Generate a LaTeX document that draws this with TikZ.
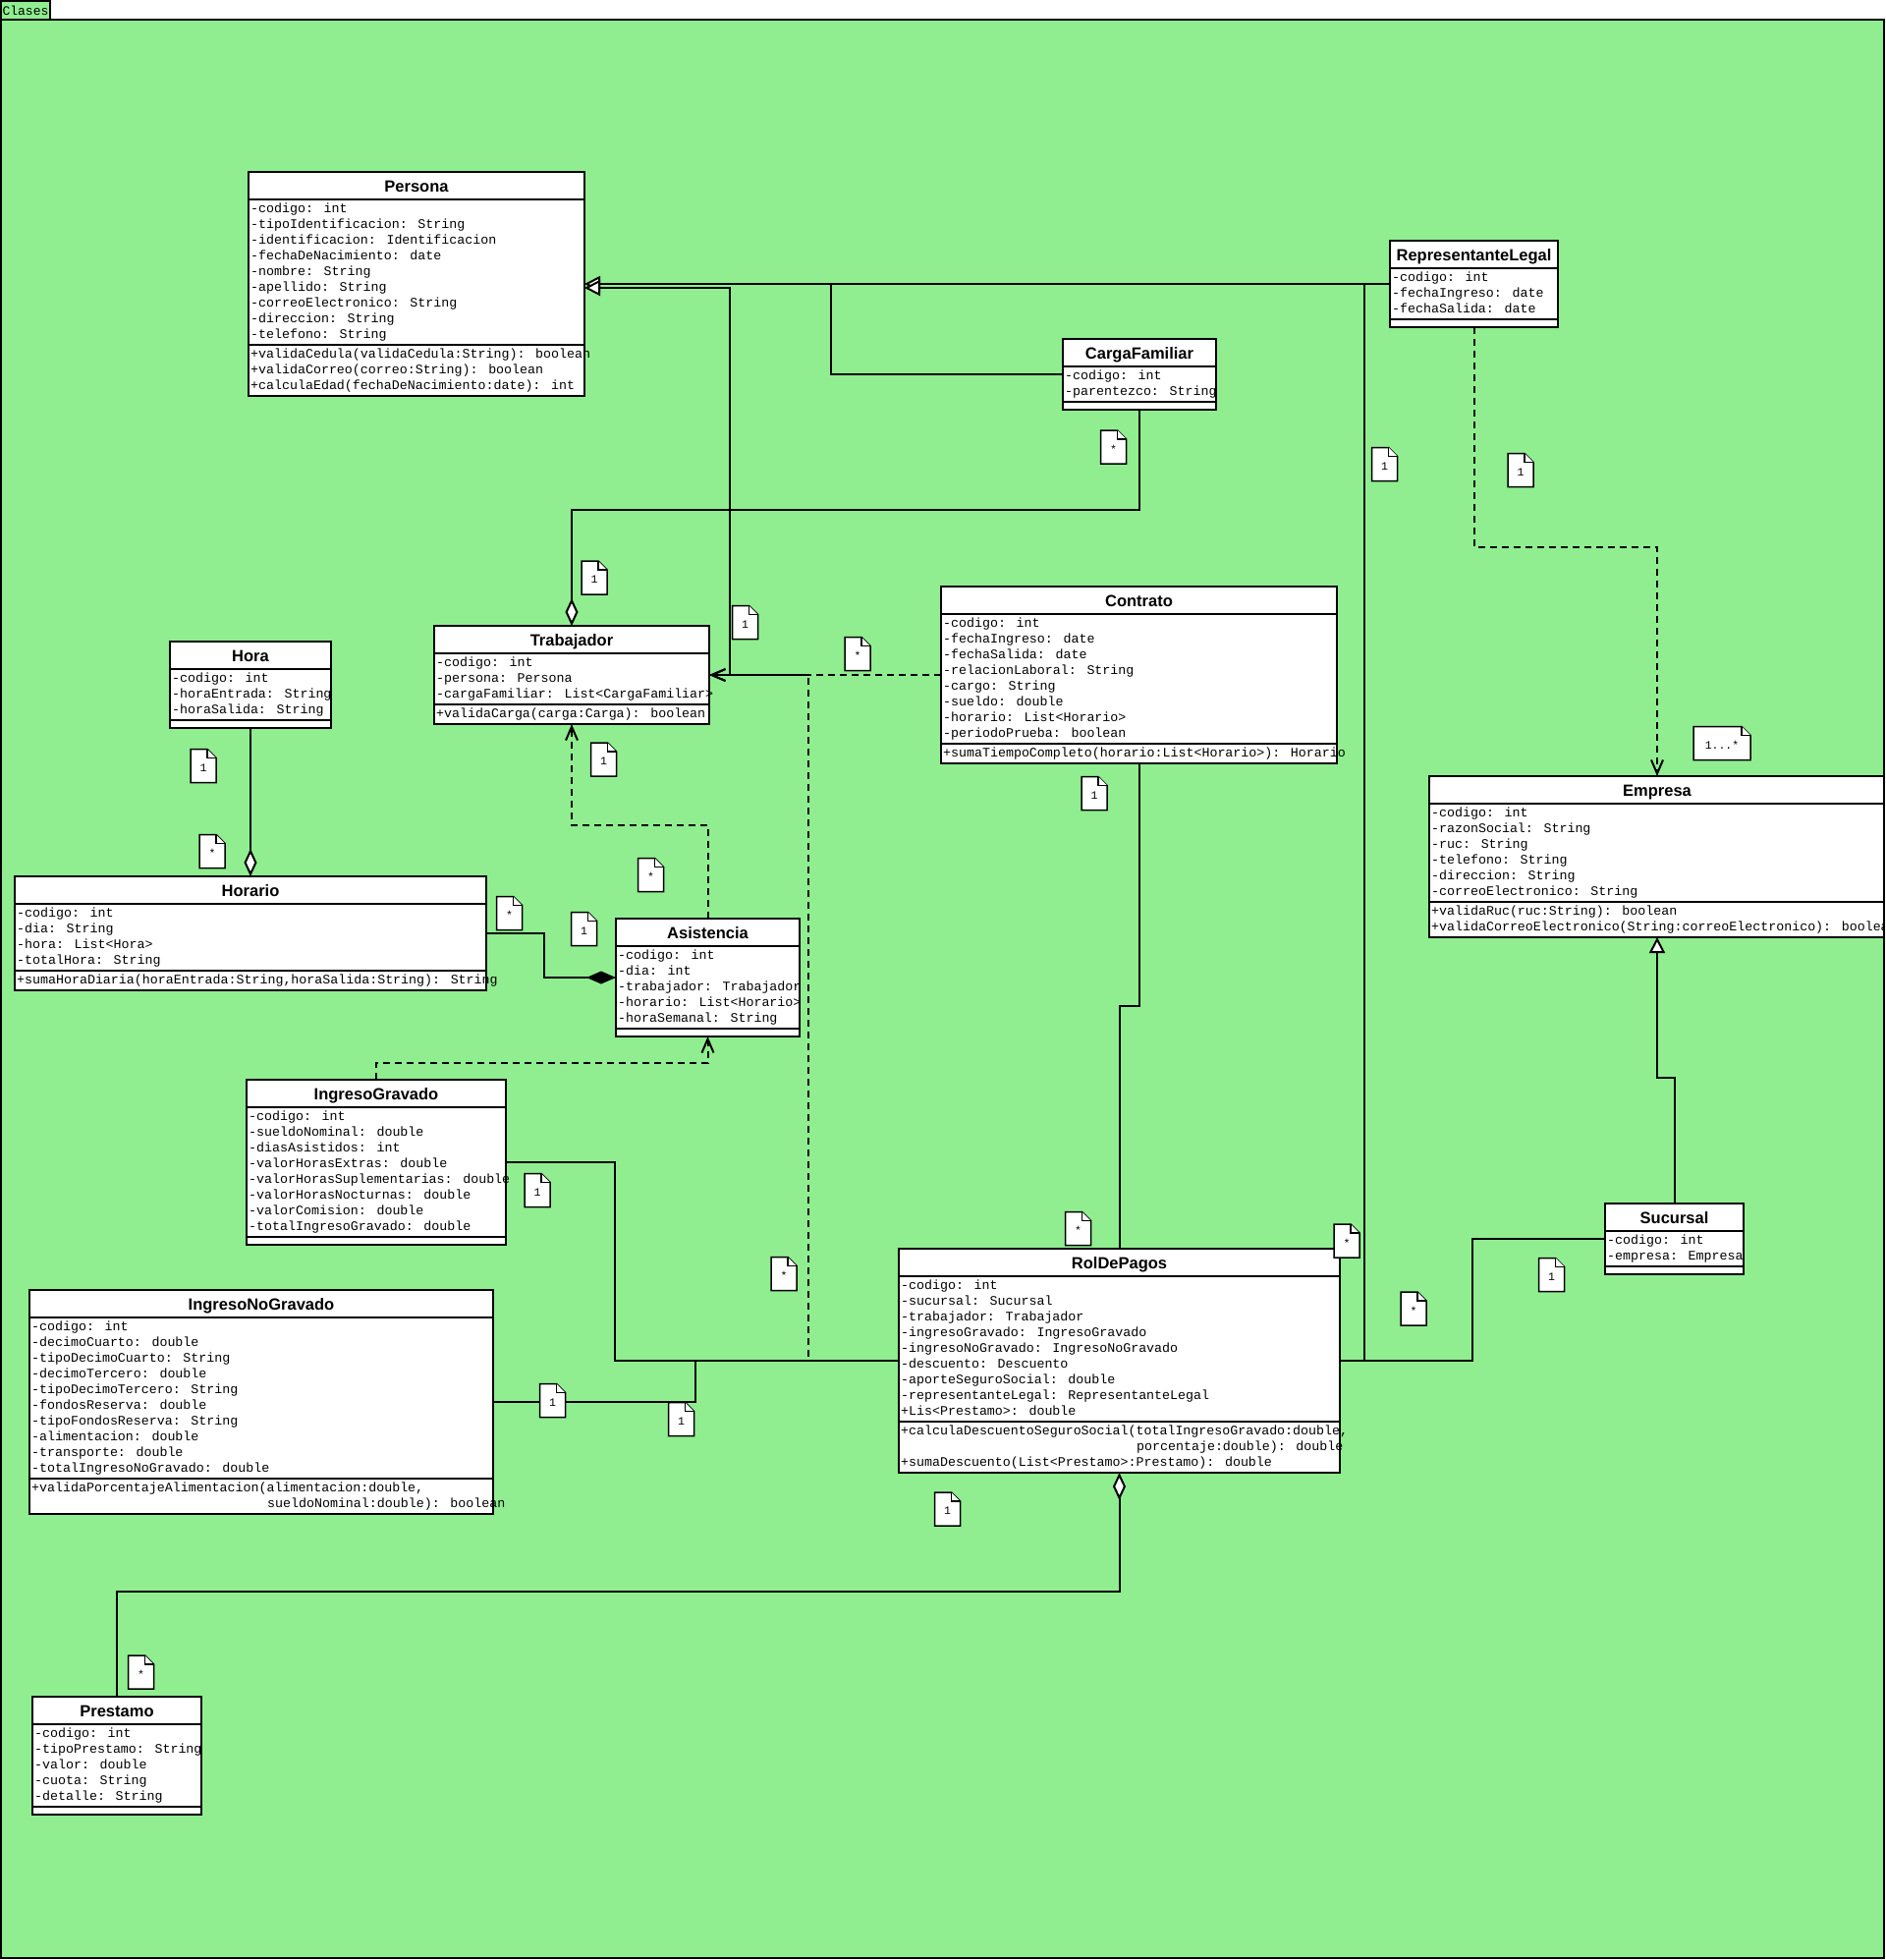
\documentclass[tikz,border=0pt]{standalone}
\usepackage{fontspec}
\usepackage{tikz}
\usetikzlibrary{arrows.meta,positioning,calc}
\newfontfamily\classmono{Liberation Mono}
\newfontfamily\classsans{Liberation Sans}
\definecolor{diagramgreen}{RGB}{144,238,144}

% class box: name, top left, width, title, attribute height, attributes, method height, methods
\newcommand{\umlclass}[8]{%
  \node[classhead, minimum width=#3pt] (#1) at (#2) {#4};
  \node[classpart, minimum width=#3pt, minimum height=#5pt] (#1-attr) at (#1.south west) {};
  \node[classtext] (#1-attrtext) at (#1-attr.north west) {\strut#6};
  \node[classpart, minimum width=#3pt, minimum height=#7pt] (#1-meth) at (#1-attr.south west) {};
  \node[classtext] (#1-methtext) at (#1-meth.north west) {\strut#8};
}
% multiplicity note: [half width] name, centre, text
\newcommand{\mult}[4][13]{%
  \filldraw[multline, shift={(#3)}] (-#1,17) -- (-#1,-17) -- (#1-9,-17) -- (#1,-8) -- (#1,17) -- cycle;
  \draw[multline, shift={(#3)}] (#1-9,-17) |- (#1,-8);
  \node[multtext] (#2) at (#3) {#4};
}

\begin{document}
\begin{tikzpicture}[
  x=1pt, y=-1pt,
  assoc/.style={line width=2pt},
  dep/.style={line width=2pt, dash pattern=on 7pt off 5pt, -{Straight Barb[length=14pt, width=12pt]}},
  gen/.style={line width=2pt, -{Triangle[fill=white, length=16pt, width=16pt]}},
  agg/.style={line width=2pt, -{Diamond[fill=white, length=28pt, width=13pt]}},
  comp/.style={line width=2pt, -{Diamond[length=30pt, width=13pt]}},
  classhead/.style={draw, fill=white, line width=2pt, outer sep=0pt, inner sep=0pt, anchor=north west,
    minimum height=28pt, text height=12pt, text depth=0pt, font=\classsans\bfseries\fontsize{16.5}{20}\selectfont},
  classpart/.style={draw, fill=white, line width=2pt, outer sep=0pt, inner sep=0pt, anchor=north west},
  classtext/.style={anchor=north west, align=left, inner xsep=2pt, inner ysep=2pt,
    font=\classmono\fontsize{13.3}{16}\selectfont},
  multline/.style={fill=white, draw=black, line width=1.5pt},
  multtext/.style={inner sep=0pt, yshift=-2pt, font=\classmono\fontsize{11.5}{13}\selectfont},
  tabtext/.style={inner sep=0pt, font=\classmono\fontsize{13}{14}\selectfont}
]
\useasboundingbox (0,0) rectangle (1920,1995);

% Frame
\fill[white] (0,0) rectangle (1920,1995);
\fill[diagramgreen] (1,20) rectangle (1918,1993);
\filldraw[fill=diagramgreen, line width=1.5pt] (1,1) rectangle (51,20);
\node[tabtext] (tab) at (26,11) {Clases};

\begin{scope}
\clip (1,20) rectangle (1918,1993);

% Classes
\umlclass{persona}{253,175}{342}{Persona}{148}{-codigo: int\\-tipoIdentificacion: String\\-identificacion: Identificacion\\-fechaDeNacimiento: date\\-nombre: String\\-apellido: String\\-correoElectronico: String\\-direccion: String\\-telefono: String}{52}{+validaCedula(validaCedula:String): boolean\\+validaCorreo(correo:String): boolean\\+calculaEdad(fechaDeNacimiento:date): int}
\umlclass{replegal}{1415,245}{171}{RepresentanteLegal}{52}{-codigo: int\\-fechaIngreso: date\\-fechaSalida: date}{8}{}
\umlclass{cargafamiliar}{1082,345}{156}{CargaFamiliar}{36}{-codigo: int\\-parentezco: String}{8}{}
\umlclass{hora}{173,653}{164}{Hora}{52}{-codigo: int\\-horaEntrada: String\\-horaSalida: String}{8}{}
\umlclass{horario}{15,892}{480}{Horario}{68}{-codigo: int\\-dia: String\\-hora: List<Hora>\\-totalHora: String}{20}{+sumaHoraDiaria(horaEntrada:String,horaSalida:String): String}
\umlclass{trabajador}{442,637}{280}{Trabajador}{52}{-codigo: int\\-persona: Persona\\-cargaFamiliar: List<CargaFamiliar>}{20}{+validaCarga(carga:Carga): boolean}
\umlclass{asistencia}{627,935}{187}{Asistencia}{84}{-codigo: int\\-dia: int\\-trabajador: Trabajador\\-horario: List<Horario>\\-horaSemanal: String}{8}{}
\umlclass{contrato}{958,597}{403}{Contrato}{132}{-codigo: int\\-fechaIngreso: date\\-fechaSalida: date\\-relacionLaboral: String\\-cargo: String\\-sueldo: double\\-horario: List<Horario>\\-periodoPrueba: boolean}{20}{+sumaTiempoCompleto(horario:List<Horario>): Horario}
\umlclass{empresa}{1455,790}{464}{Empresa}{100}{-codigo: int\\-razonSocial: String\\-ruc: String\\-telefono: String\\-direccion: String\\-correoElectronico: String}{36}{+validaRuc(ruc:String): boolean\\+validaCorreoElectronico(String:correoElectronico): boolean}
\umlclass{sucursal}{1634,1225}{141}{Sucursal}{36}{-codigo: int\\-empresa: Empresa}{8}{}
\umlclass{ingresogravado}{251,1099}{264}{IngresoGravado}{132}{-codigo: int\\-sueldoNominal: double\\-diasAsistidos: int\\-valorHorasExtras: double\\-valorHorasSuplementarias: double\\-valorHorasNocturnas: double\\-valorComision: double\\-totalIngresoGravado: double}{8}{}
\umlclass{ingresonogravado}{30,1313}{472}{IngresoNoGravado}{164}{-codigo: int\\-decimoCuarto: double\\-tipoDecimoCuarto: String\\-decimoTercero: double\\-tipoDecimoTercero: String\\-fondosReserva: double\\-tipoFondosReserva: String\\-alimentacion: double\\-transporte: double\\-totalIngresoNoGravado: double}{36}{+validaPorcentajeAlimentacion(alimentacion:double,\\\hspace*{240pt}sueldoNominal:double): boolean}
\umlclass{rolpagos}{915,1271}{449}{RolDePagos}{148}{-codigo: int\\-sucursal: Sucursal\\-trabajador: Trabajador\\-ingresoGravado: IngresoGravado\\-ingresoNoGravado: IngresoNoGravado\\-descuento: Descuento\\-aporteSeguroSocial: double\\-representanteLegal: RepresentanteLegal\\+Lis<Prestamo>: double}{52}{+calculaDescuentoSeguroSocial(totalIngresoGravado:double,\\\hspace*{240pt}porcentaje:double): double\\+sumaDescuento(List<Prestamo>:Prestamo): double}
\umlclass{prestamo}{33,1727}{172}{Prestamo}{84}{-codigo: int\\-tipoPrestamo: String\\-valor: double\\-cuota: String\\-detalle: String}{8}{}

% Bend points
\coordinate (gjoin) at (1389,289);
\coordinate (cfjoin) at (846,289);
\coordinate (tcorner) at (743,293);
\coordinate (cfrow) at (0,519);
\coordinate (erow) at (0,557);
\coordinate (asrow) at (0,840);
\coordinate (crow) at (0,1024);
\coordinate (igrow) at (0,1082);
\coordinate (srow) at (0,1097);
\coordinate (rolrow) at (0,1385);
\coordinate (prow) at (0,1620);
\coordinate (hcol) at (554,0);
\coordinate (igcol) at (626,0);
\coordinate (ingcol) at (708,0);
\coordinate (depcol) at (823,0);
\coordinate (sucol) at (1499,0);
\coordinate (asin) at ([yshift=-32pt]asistencia-attr.north west);
\coordinate (tentry) at ([yshift=4pt]trabajador-attr.east);

% Generalizations
\draw[gen] ([yshift=-16pt]replegal-attr.north west) -- (persona-attr.east |- gjoin);
\draw[assoc] ([yshift=-8pt]cargafamiliar-attr.north west) -| (cfjoin);
\draw[gen] (tentry) -| (tcorner) -- (persona-attr.east |- tcorner);
\draw[gen] (sucursal.north) |- (empresa-meth.south |- srow) -- (empresa-meth.south);

% Aggregations and composition
\draw[agg] (cargafamiliar-meth.south) |- (trabajador.north |- cfrow) -- (trabajador.north);
\draw[agg] (hora-meth.south) -- (horario.north);
\draw[comp] ([yshift=-30pt]horario-attr.north east) -| (hcol |- asin) -- (asin);
\draw[agg] (prestamo.north) |- (rolpagos-meth.south |- prow) -- (rolpagos-meth.south);

% Dependencies
\draw[dep] (asistencia.north) |- (trabajador-meth.south |- asrow) -- (trabajador-meth.south);
\draw[dep] (contrato-attr.west |- tentry) -- (tentry);
\draw[dep] (rolpagos-attr.west |- rolrow) -| (depcol |- tentry) -- (tentry);
\draw[dep] (ingresogravado.north) |- (asistencia-meth.south |- igrow) -- (asistencia-meth.south);
\draw[dep] (replegal-meth.south) |- (empresa.north |- erow) -- (empresa.north);

% Associations of RolDePagos
\draw[assoc] ([yshift=-56pt]ingresogravado-attr.north east) -| (igcol |- rolrow) -- (rolpagos-attr.west |- rolrow);
\draw[assoc] ([yshift=-86pt]ingresonogravado-attr.north east) -| (ingcol |- rolrow);
\draw[assoc] (contrato-meth.south) |- (rolpagos.north |- crow) -- (rolpagos.north);
\draw[assoc] ([yshift=-8pt]sucursal-attr.north west) -| (sucol |- rolrow) -- (rolpagos-attr.east |- rolrow);
\draw[assoc] (rolpagos-attr.east |- rolrow) -| (gjoin) -- ([yshift=-16pt]replegal-attr.north west);

% Multiplicities
\mult{mcf}{1133.5,455}{*}
\mult{mrl}{1409.5,472.5}{1}
\mult{mrle}{1548,478.5}{1}
\mult{mtc}{605,588}{1}
\mult{mtp}{758.5,633.5}{1}
\mult{mtcon}{873,665.5}{*}
\mult{mho}{207,779.5}{1}
\mult{mta}{614.5,773}{1}
\mult{mcon}{1114,807.5}{1}
\mult[29]{memp}{1753,756.5}{1...*}
\mult{mhr}{216,866.5}{*}
\mult{mas}{662.5,890.5}{*}
\mult{mhra}{518.5,929.5}{*}
\mult{mash}{594.5,945.5}{1}
\mult{mig}{547,1211.5}{1}
\mult{mrcon}{1097.5,1250.5}{*}
\mult{mrrl}{1371,1263}{*}
\mult{mrt}{798,1296.5}{*}
\mult{msu}{1579.5,1297.5}{1}
\mult{mrsu}{1439,1332}{*}
\mult{mign}{562.5,1425.5}{1}
\mult{mrig}{693.5,1444.5}{1}
\mult{mrpr}{964.5,1536}{1}
\mult{mpr}{143.5,1702}{*}
\end{scope}

\draw[line width=2.5pt] (1,20) rectangle (1918,1993);
\end{tikzpicture}
\end{document}
